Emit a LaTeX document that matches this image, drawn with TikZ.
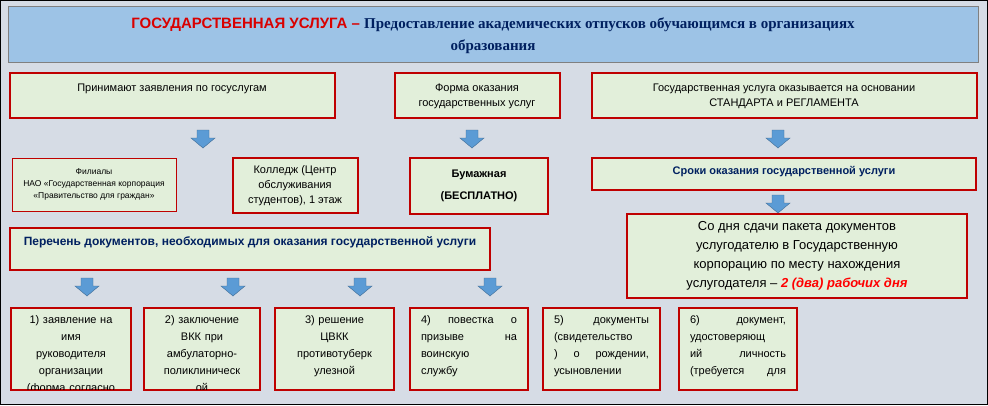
\documentclass[tikz,border=0pt]{standalone}
\usepackage{fontspec}
\setmainfont{Liberation Sans}
\newfontfamily\serif{Liberation Serif}
\begin{document}
\begin{tikzpicture}[x=1pt,y=-1pt,
  box/.style={draw=red!75!black,line width=1.6pt,fill=cell,inner sep=0pt},
  txt/.style={align=center,font=\fontsize{11}{15}\selectfont,inner sep=0pt},
  bbox/.style={font=\fontsize{11}{17}\selectfont,inner sep=0pt,anchor=north}]
\definecolor{bg}{HTML}{D6DCE5}
\definecolor{ttl}{HTML}{9DC3E6}
\definecolor{arr}{HTML}{5B9BD5}
\definecolor{dblue}{HTML}{002060}
\definecolor{cell}{HTML}{E2EFDA}
\newcommand\barrow[2]{\fill[arr,draw=arr!70!black,line width=0.4pt] (#1-6,#2) -- (#1+6,#2) -- (#1+6,#2+8) -- (#1+12,#2+8) -- (#1,#2+18) -- (#1-12,#2+8) -- (#1-6,#2+8) -- cycle;}
\useasboundingbox (0,0) rectangle (988,405);
\draw[fill=bg,draw=black,line width=1pt] (0.5,0.5) rectangle (987.5,404.5);
\draw[fill=ttl,draw=gray,line width=0.8pt] (8,6) rectangle (978,62);
\node[inner sep=0pt,align=center,font=\bfseries\fontsize{15}{22}\selectfont] (title) at (493,36) {\textcolor{red!85!black}{ГОСУДАРСТВЕННАЯ УСЛУГА –} \textcolor{dblue}{\serif Предоставление академических отпусков обучающимся в организациях}\\\textcolor{dblue}{\serif образования}};
% row1
\draw[box] (10,73) rectangle (335,118);
\node[txt] (a) at (172,89) {Принимают заявления по госуслугам};
\draw[box] (395,73) rectangle (560,118);
\node[txt] (b) at (477,96) {Форма оказания\\государственных услуг};
\draw[box] (592,73) rectangle (977,118);
\node[txt] (c) at (784,96) {Государственная услуга оказывается на основании\\СТАНДАРТА и РЕГЛАМЕНТА};
\barrow{203}{130}\barrow{472}{130}\barrow{778}{130}
% row2
\draw[box,line width=1pt] (12,158) rectangle (176,211);
\node[txt,font=\fontsize{8.5}{12}\selectfont] (f) at (94,184) {Филиалы\\НАО «Государственная корпорация\\«Правительство для граждан»};
\draw[box] (233,158) rectangle (358,213);
\node[txt] (k) at (295,186) {Колледж (Центр\\обслуживания\\студентов), 1 этаж};
\draw[box] (410,158) rectangle (548,214);
\node[txt,font=\bfseries\fontsize{11}{22}\selectfont] (p) at (479,186) {Бумажная\\(БЕСПЛАТНО)};
\draw[box] (592,158) rectangle (976,190);
\node[txt,font=\bfseries\fontsize{11}{15}\selectfont,text=dblue] (s) at (784,172) {Сроки оказания государственной услуги};
\barrow{778}{195}
\draw[box] (627,214) rectangle (967,298);
\node[txt,font=\fontsize{13}{19}\selectfont] (d) at (797,256) {Со дня сдачи пакета документов\\услугодателю в Государственную\\корпорацию по месту нахождения\\услугодателя – \textcolor{red}{\bfseries\itshape 2 (два) рабочих дня}};
\draw[box] (10,228) rectangle (490,270);
\node[txt,font=\bfseries\fontsize{12}{15}\selectfont,text=dblue] (l) at (250,242) {Перечень документов, необходимых для оказания государственной услуги};
\barrow{87}{278}\barrow{233}{278}\barrow{360}{278}\barrow{490}{278}
% bottom
\foreach \xa/\xb/\al/\t [count=\i] in {
 11/131/center/{1) заявление на\\имя\\руководителя\\организации\\(форма согласно\\приложению)},
 144/260/center/{2) заключение\\ВКК при\\амбулаторно-\\поликлиническ\\ой},
 275/394/center/{3) решение\\ЦВКК\\противотуберк\\улезной},
 410/528/left/{4)\hfill повестка\hfill о\\призыве\hfill на\\воинскую\\службу},
 543/660/left/{5)\hfill документы\\(свидетельство\\)\hfill о\hfill рождении,\\усыновлении},
 679/797/left/{6)\hfill документ,\\удостоверяющ\\ий\hfill личность\\(требуется\hfill для}}{
  \draw[box] (\xa,308) rectangle (\xb,390);
  \begin{scope}
  \clip (\xa+1,309) rectangle (\xb-1,389);
  \node[bbox,align=\al,text width={\xb-\xa-22}] (q\i) at ({(\xa+\xb)/2},315) {\t};
  \end{scope}
}
\end{tikzpicture}
\end{document}
